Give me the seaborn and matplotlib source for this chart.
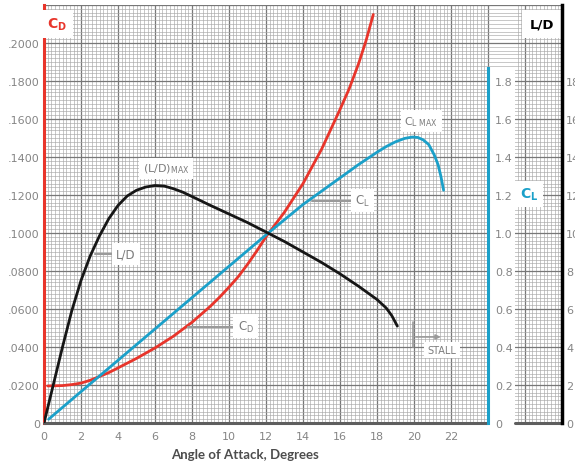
import seaborn as sns
import numpy as np
import matplotlib.pyplot as plt
from matplotlib.patches import Rectangle
from matplotlib.ticker import FixedLocator, MultipleLocator

sns.set_style("white")
plt.rcParams['font.family'] = ['DejaVu Sans']
plt.rcParams['mathtext.fontset'] = 'dejavusans'

# values (angle of attack in degrees)
alpha_cl = [0.25, 2, 4, 6, 8, 10, 12, 13, 14, 15, 16, 17, 18, 18.5, 19, 19.5, 19.9, 20.2, 20.5, 20.8, 21.1, 21.3, 21.45, 21.6]
cl = [0.02, 0.165, 0.33, 0.495, 0.66, 0.825, 0.99, 1.07, 1.15, 1.22, 1.29, 1.36, 1.425, 1.455, 1.48, 1.498, 1.505, 1.503, 1.49, 1.465, 1.41, 1.36, 1.30, 1.225]

alpha_cd = [0.2, 1, 1.5, 2, 2.5, 3, 3.5, 4, 5, 6, 7, 8, 9, 9.5, 10, 10.5, 11, 11.5, 12, 13, 14, 15, 16, 16.5, 17, 17.4, 17.8]
cd = [0.0195, 0.0197, 0.0202, 0.021, 0.0225, 0.0245, 0.0265, 0.029, 0.034, 0.0395, 0.0457, 0.053, 0.0615, 0.0663, 0.0715, 0.077, 0.0835, 0.0905, 0.098, 0.111, 0.126, 0.144, 0.165, 0.176, 0.189, 0.201, 0.215]

alpha_ld = [0, 0.5, 1, 1.5, 2, 2.5, 3, 3.5, 4, 4.5, 5, 5.5, 6, 6.5, 7, 7.5, 8, 9, 10, 11, 12, 13, 14, 15, 16, 17, 18, 18.5, 18.8, 19.1]
ld = [0, 2.0, 4.0, 5.9, 7.5, 8.8, 9.85, 10.75, 11.45, 11.95, 12.25, 12.42, 12.5, 12.47, 12.33, 12.15, 11.92, 11.45, 11.0, 10.55, 10.05, 9.55, 9.0, 8.45, 7.85, 7.2, 6.5, 6.05, 5.65, 5.1]

x_ticks = list(range(0, 29, 2))
x_labels = [str(v) if v <= 22 else '' for v in x_ticks]
cd_ticks = [0, 0.02, 0.04, 0.06, 0.08, 0.10, 0.12, 0.14, 0.16, 0.18, 0.20, 0.22]
cd_labels = ['0', '.0200', '.0400', '.0600', '.0800', '.1000', '.1200', '.1400', '.1600', '.1800', '.2000', '']
cl_ticks = [0, 0.2, 0.4, 0.6, 0.8, 1.0, 1.2, 1.4, 1.6, 1.8]
cl_labels = ['0', '0.2', '0.4', '0.6', '0.8', '1.0', '1.2', '1.4', '1.6', '1.8']
ld_ticks = [0, 2, 4, 6, 8, 10, 12, 14, 16, 18]

red = '#e8352b'
blue = '#1ba0c9'
grey = '#858585'
note = '#7c7c7c'

fig = plt.figure(figsize=(5.75, 4.64), dpi=100)
ax = fig.add_axes([44/575, 40/464, 518/575, 418/464])
ax_cl = ax.twinx()
ax_ld = ax.twinx()

line_kw = dict(lw=2, sort=False, estimator=None, solid_joinstyle='round', solid_capstyle='round')
sns.lineplot(x=alpha_cd, y=cd, ax=ax, color=red, **line_kw)
sns.lineplot(x=alpha_cl, y=cl, ax=ax_cl, color=blue, **line_kw)
sns.lineplot(x=alpha_ld, y=ld, ax=ax_ld, color='#161616', **line_kw)

ax.set_xlim(0, 28)
ax.set_ylim(0, 0.22)
ax_cl.set_ylim(0, 2.2)
ax_ld.set_ylim(0, 22)
for a in (ax, ax_cl, ax_ld):
    a.set_xlabel('')
    a.set_ylabel('')

# graph paper
ax.set_xticks(x_ticks, x_labels)
minor_x = [round(v * 0.2, 1) for v in range(141) if not 24 < v * 0.2 < 25.5]
ax.xaxis.set_minor_locator(FixedLocator(minor_x))
ax.set_yticks(cd_ticks, cd_labels)
ax.yaxis.set_minor_locator(MultipleLocator(0.002))
ax.grid(which='major', color='#777777', lw=0.9)
ax.grid(which='minor', color='#a8a8a8', lw=0.45)
ax.set_axisbelow(True)
ax.add_patch(Rectangle((24, 0), 1.46, 0.187, fc='white', ec='none', zorder=1))

ax.tick_params(axis='x', which='both', length=2.5, width=0.5, color='#999999',
               pad=3, labelsize=8, labelcolor=grey)
ax.tick_params(axis='y', which='both', length=0, pad=3, labelsize=8, labelcolor=grey)

for s in ['top', 'right', 'bottom']:
    ax.spines[s].set_visible(False)
ax.spines['left'].set_color(red)
ax.spines['left'].set_linewidth(2.2)
ax.plot([0, 24], [0, 0], color='#5e5e5e', lw=2.2, clip_on=False, zorder=3)
ax.plot([25.46, 28], [0, 0], color='#5e5e5e', lw=2.2, clip_on=False, zorder=3)

# C_L axis
for s in ['top', 'left', 'bottom']:
    ax_cl.spines[s].set_visible(False)
ax_cl.spines['right'].set_position(('axes', 24 / 28))
ax_cl.spines['right'].set_bounds(0, 1.87)
ax_cl.spines['right'].set_color(blue)
ax_cl.spines['right'].set_linewidth(2.2)
ax_cl.set_yticks(cl_ticks, cl_labels)
ax_cl.tick_params(axis='y', length=0, pad=5, labelsize=8, labelcolor=grey)

# L/D axis
for s in ['top', 'left', 'bottom']:
    ax_ld.spines[s].set_visible(False)
ax_ld.spines['right'].set_color('black')
ax_ld.spines['right'].set_linewidth(2.5)
ax_ld.set_yticks(ld_ticks)
ax_ld.tick_params(axis='y', length=0, pad=3, labelsize=8, labelcolor=grey)

# axis titles
box = dict(fc='white', ec='none', boxstyle='square,pad=0.35')
ax.text(0.7, 0.21, r'$\mathbf{C_D}$', color=red, fontsize=10, ha='center', va='center',
        bbox=dict(fc='white', ec='none', boxstyle='square,pad=0.45'), zorder=5)
ax.text(26.9, 0.21, 'L/D', color='black', fontsize=9.5, fontweight='bold', ha='center',
        va='center', bbox=dict(fc='white', ec='none', boxstyle='square,pad=0.55'), zorder=5)
ax.text(26.2, 0.1205, r'$\mathbf{C_L}$', color=blue, fontsize=10, ha='center', va='center',
        bbox=dict(fc='white', ec='none', boxstyle='square,pad=0.35'), zorder=5)

# curve notes
ax.text(6.6, 0.134, r'(L/D)$_{\mathrm{MAX}}$', color=note, fontsize=8, ha='center', va='center', bbox=box, zorder=5)
ax.text(20.4, 0.159, r'C$_{\mathrm{L\ MAX}}$', color=note, fontsize=8, ha='center', va='center', bbox=box, zorder=5)
ax.text(17.2, 0.117, r'C$_{\mathrm{L}}$', color=note, fontsize=8.5, ha='center', va='center', bbox=box, zorder=5)
ax.plot([14.5, 16.6], [0.117, 0.117], color='#9a9a9a', lw=1.5, zorder=4)
ax.text(4.43, 0.089, 'L/D', color=note, fontsize=8.5, ha='center', va='center', bbox=box, zorder=5)
ax.plot([2.76, 3.73], [0.089, 0.089], color='#9a9a9a', lw=1.5, zorder=4)
ax.text(10.9, 0.051, r'C$_{\mathrm{D}}$', color=note, fontsize=8.5, ha='center', va='center', bbox=box, zorder=5)
ax.plot([7.8, 10.4], [0.0505, 0.0505], color='#9a9a9a', lw=1.5, zorder=4)
ax.text(21.5, 0.0384, 'STALL', color=note, fontsize=7, ha='center', va='center', bbox=box, zorder=5)
ax.plot([19.95, 19.95], [0.040, 0.053], color='#9a9a9a', lw=1.2, zorder=4)
ax.annotate('', xy=(21.6, 0.0453), xytext=(19.95, 0.0453),
            arrowprops=dict(arrowstyle='-|>', color='#9a9a9a', lw=1.2, mutation_scale=7), zorder=4)

fig.text(245/575, 1 - 455/464, 'Angle of Attack, Degrees', ha='center', va='center',
         fontsize=9.5, fontweight='bold', color='#4d4d4d', family='Lato')

fig.savefig('out.png', dpi=100)
